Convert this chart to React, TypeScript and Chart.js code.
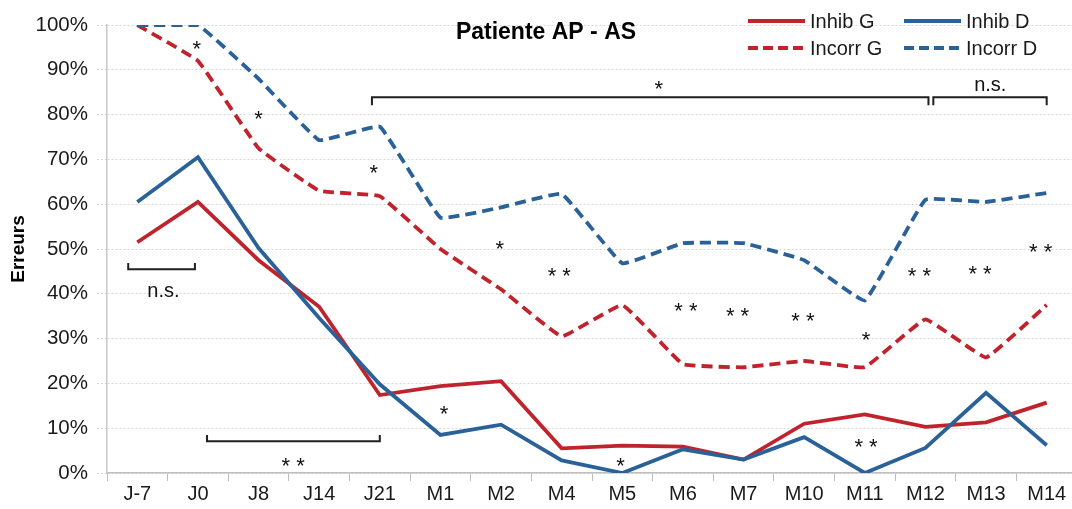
import React, { useEffect, useRef } from 'react';
import { Chart, registerables } from 'chart.js';

Chart.register(...registerables);

const categories = ['J-7', 'J0', 'J8', 'J14', 'J21', 'M1', 'M2', 'M4', 'M5', 'M6', 'M7', 'M10', 'M11', 'M12', 'M13', 'M14'];
const inhibG = [51.5, 60.5, 47.5, 37.1, 17.4, 19.4, 20.5, 5.5, 6.1, 5.9, 3, 11, 13.1, 10.3, 11.3, 15.7];
const inhibD = [60.5, 70.5, 50.2, 34.6, 19.8, 8.5, 10.8, 2.8, 0, 5.3, 3, 8, 0, 5.6, 17.9, 6.2];
const incorrG = [100, 92, 72.5, 63, 61.8, 50, 41, 30.5, 37.5, 24.3, 23.6, 25, 23.6, 34.3, 25.8, 37.5];
const incorrD = [100, 100, 88, 74.3, 77.3, 57, 59.3, 62.3, 46.8, 51.3, 51.3, 47.5, 38.5, 61, 60.5, 62.5];
const yTicks = [0, 10, 20, 30, 40, 50, 60, 70, 80, 90, 100];

const seriesNames = ['Inhib G', 'Inhib D', 'Incorr G', 'Incorr D'];
const chartTitle = 'Patiente AP - AS';
const yTitle = 'Erreurs';

// significance brackets: category index range, level (%), tip level (%)
const bracketFrom = [-0.15, 1.15, 3.87, 13.13];
const bracketTo = [0.95, 4.0, 13.05, 15.0];
const bracketLevel = [45.5, 7.1, 83.9, 83.9];
const bracketTip = [46.9, 8.5, 82.1, 82.1];

// significance labels: category index, level (%), text
const markX = [0.43, 2.57, 8.6, 14.07, 0.98, 2.0, 3.9, 5.06, 5.98, 6.96, 7.97, 9.05, 9.9, 10.98, 12.02, 12.02, 12.9, 13.9, 14.9];
const markY = [40.4, 2.9, 87.1, 86.4, 96, 80.4, 68.3, 14.5, 51.3, 45.3, 2.9, 37.5, 36.4, 35.3, 31, 7.1, 45.3, 45.8, 50.7];
const markText = ['n.s.', '**', '*', 'n.s.', '*', '*', '*', '*', '*', '**', '*', '**', '**', '**', '*', '**', '**', '**', '**'];

const RED = '#C1232C';
const BLUE = '#2A6198';
const FONT = "'Liberation Sans', Arial, sans-serif";

const overlayPlugin = {
  id: 'overlay',
  afterDatasetsDraw(chart: any) {
    const { ctx, scales } = chart;
    const x = scales.x;
    const y = scales.y;
    ctx.save();
    ctx.strokeStyle = '#1f1f1f';
    ctx.lineWidth = 2;
    for (let i = 0; i < bracketFrom.length; i++) {
      const x1 = x.getPixelForValue(bracketFrom[i]);
      const x2 = x.getPixelForValue(bracketTo[i]);
      const yl = y.getPixelForValue(bracketLevel[i]);
      const yt = y.getPixelForValue(bracketTip[i]);
      ctx.beginPath();
      ctx.moveTo(x1, yt);
      ctx.lineTo(x1, yl);
      ctx.lineTo(x2, yl);
      ctx.lineTo(x2, yt);
      ctx.stroke();
    }
    ctx.fillStyle = '#111';
    ctx.textAlign = 'center';
    ctx.textBaseline = 'alphabetic';
    for (let i = 0; i < markX.length; i++) {
      const px = x.getPixelForValue(markX[i]);
      const py = y.getPixelForValue(markY[i]);
      const t = markText[i];
      const star = t.startsWith('*');
      const fs = star ? 22 : 20;
      ctx.font = `${fs}px ${FONT}`;
      const off = star ? 0.6 * fs : 0.27 * fs;
      const txt = t === '**' ? '* *' : t;
      ctx.fillText(txt, px, py + off);
    }
    ctx.restore();
  },
  afterDraw(chart: any) {
    const { ctx } = chart;
    ctx.save();
    // title
    ctx.fillStyle = '#000';
    ctx.font = `bold 23px ${FONT}`;
    ctx.textAlign = 'center';
    ctx.textBaseline = 'middle';
    ctx.fillText(chartTitle, 546, 33);
    // legend
    const colors = [RED, BLUE, RED, BLUE];
    const dashed = [false, false, true, true];
    const lx = [748, 904, 748, 904];
    const ly = [21, 21, 48, 48];
    ctx.font = `20px ${FONT}`;
    ctx.textAlign = 'left';
    for (let i = 0; i < 4; i++) {
      ctx.strokeStyle = colors[i];
      ctx.lineWidth = 4;
      ctx.setLineDash(dashed[i] ? [10, 5] : []);
      ctx.beginPath();
      ctx.moveTo(lx[i], ly[i]);
      ctx.lineTo(lx[i] + 57, ly[i]);
      ctx.stroke();
      ctx.setLineDash([]);
      ctx.fillStyle = '#1a1a1a';
      ctx.fillText(seriesNames[i], lx[i] + 62, ly[i] + 1);
    }
    ctx.restore();
  },
};

export default function App() {
  const ref = useRef<HTMLCanvasElement | null>(null);
  useEffect(() => {
    if (!ref.current) return;
    const chart = new Chart(ref.current, {
      type: 'line',
      data: {
        labels: categories,
        datasets: [
          { label: seriesNames[0], data: inhibG, borderColor: RED, borderWidth: 3.8, pointRadius: 0, tension: 0, order: 2 },
          { label: seriesNames[1], data: inhibD, borderColor: BLUE, borderWidth: 3.8, pointRadius: 0, tension: 0, order: 1 },
          { label: seriesNames[2], data: incorrG, borderColor: RED, borderWidth: 3.8, borderDash: [11, 6], pointRadius: 0, tension: 0.08, order: 4 },
          { label: seriesNames[3], data: incorrD, borderColor: BLUE, borderWidth: 3.8, borderDash: [11, 6], pointRadius: 0, tension: 0.08, order: 3 },
        ],
      },
      options: {
        responsive: false,
        animation: false,
        layout: { padding: { top: 25, right: 1, bottom: 0, left: 0 } },
        plugins: { legend: { display: false }, title: { display: false }, tooltip: { enabled: false } },
        scales: {
          x: {
            offset: true,
            grid: { offset: true, drawOnChartArea: false, drawTicks: true, tickLength: 8, tickColor: '#bfbfbf', color: '#bfbfbf' },
            border: { display: true, color: '#bfbfbf', width: 1.5 },
            ticks: { color: '#1a1a1a', font: { size: 20, family: FONT }, padding: 1, maxRotation: 0, autoSkip: false },
            afterFit: (s: any) => { s.height = 36; },
          },
          y: {
            min: 0,
            max: 100,
            afterBuildTicks: (s: any) => { s.ticks = yTicks.map((v) => ({ value: v })); },
            grid: { color: '#d6d6d6', lineWidth: 1, tickLength: 10, tickColor: '#d6d6d6', tickBorderDash: [2, 2] },
            border: { display: true, color: '#c8c8c8', width: 1.5, dash: [2, 2] },
            ticks: { color: '#1a1a1a', font: { size: 20.5, family: FONT }, padding: 9, callback: (v: any) => `${v}%` },
            title: { display: true, text: yTitle, color: '#000', font: { size: 19, weight: 'bold', family: FONT }, padding: { top: 7, bottom: 0 } },
            afterFit: (s: any) => { s.width = 107; },
          },
        },
      },
      plugins: [overlayPlugin],
    });
    return () => chart.destroy();
  }, []);
  return (
    <div style={{ position: 'fixed', left: 0, top: 0, width: 1072, height: 509, overflow: 'hidden', background: '#fff' }}>
      <canvas ref={ref} width={1078} height={509} style={{ display: 'block', width: 1078, height: 509 }} />
    </div>
  );
}
